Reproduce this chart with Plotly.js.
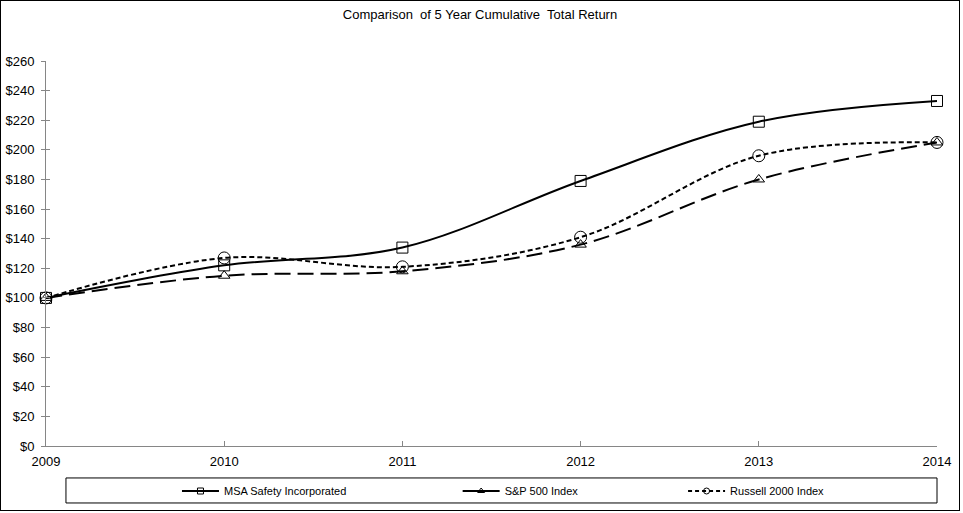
<!DOCTYPE html>
<html>
<head>
<meta charset="utf-8">
<script src="https://cdn.plot.ly/plotly-3.0.1.min.js"></script>
<style>
  html, body { margin: 0; padding: 0; background: #fff; }
  #chart { width: 958px; height: 509px; border: 1px solid #000; }
</style>
</head>
<body>
<div id="chart"></div>
<script>
(function () {
  'use strict';

  /* values */
  var years   = [2009, 2010, 2011, 2012, 2013, 2014];
  var msa     = [100, 122, 134, 179, 219, 233];
  var sp500   = [100, 115, 118, 136, 180, 205];
  var russell = [100, 127, 121, 141, 196, 205];
  var yTicks  = [0, 20, 40, 60, 80, 100, 120, 140, 160, 180, 200, 220, 240, 260];

  var FONT = 'Liberation Sans, Arial, sans-serif';

  var series = [
    { name: 'MSA Safety Incorporated', y: msa,     symbol: 'square-open',      size: 11, dash: 'solid',    legDash: 'solid',   legend: 'legend'  },
    { name: 'S&P 500 Index',           y: sp500,   symbol: 'triangle-up-open', size: 10, dash: '16px,7px', legDash: 'solid',   legend: 'legend2' },
    { name: 'Russell 2000 Index',      y: russell, symbol: 'circle-open',      size: 12, dash: '5px,3px',  legDash: '4px,3px', legend: 'legend3' }
  ];

  var traces = [];
  series.forEach(function (s) {
    traces.push({
      x: years, y: s.y, type: 'scatter', mode: 'lines+markers',
      line: { color: '#000', width: 2, dash: s.dash, shape: 'spline', smoothing: 1 },
      marker: { symbol: s.symbol, size: s.size, color: '#000', line: { width: 1, color: '#000' } },
      cliponaxis: false, showlegend: false, hoverinfo: 'x+y'
    });
  });
  /* legend-only copies with small markers */
  series.forEach(function (s) {
    traces.push({
      x: [null], y: [null], type: 'scatter', mode: 'lines+markers', name: s.name,
      line: { color: '#000', width: 2, dash: s.legDash },
      marker: { symbol: s.symbol, size: 6, color: '#000', line: { width: 1, color: '#000' } },
      legend: s.legend, showlegend: true
    });
  });

  function legendAt(x) {
    return {
      x: x, y: 0.0373, xref: 'paper', yref: 'container',
      xanchor: 'left', yanchor: 'middle',
      orientation: 'h', bgcolor: 'rgba(0,0,0,0)', borderwidth: 0,
      font: { family: FONT, size: 11, color: '#000' },
      itemwidth: 37
    };
  }

  var layout = {
    width: 958, height: 509,
    margin: { l: 45, r: 22, t: 60, b: 64, autoexpand: false },
    paper_bgcolor: '#fff', plot_bgcolor: '#fff',
    font: { family: FONT, size: 13, color: '#000' },
    title: {
      text: 'Comparison  of 5 Year Cumulative  Total Return',
      font: { family: FONT, size: 13, color: '#000' },
      x: 0.5, xanchor: 'center', y: 0.973, yanchor: 'middle'
    },
    xaxis: {
      range: [2009, 2014], tickvals: years, ticktext: years.map(String),
      showline: true, linecolor: '#868686', linewidth: 1,
      ticks: 'inside', ticklen: 5, tickcolor: '#868686',
      ticklabelstandoff: 3,
      showgrid: false, zeroline: false, fixedrange: true,
      tickfont: { family: FONT, size: 13, color: '#000' }
    },
    yaxis: {
      range: [0, 260], tickvals: yTicks, ticktext: yTicks.map(function (v) { return '$' + v; }),
      showline: true, linecolor: '#868686', linewidth: 1,
      ticks: 'outside', ticklen: 4, tickcolor: '#868686',
      ticklabelstandoff: 4,
      showgrid: false, zeroline: false, fixedrange: true,
      tickfont: { family: FONT, size: 13, color: '#000' }
    },
    yaxis2: {
      overlaying: 'y', matches: 'y', side: 'left', range: [0, 260], tickvals: yTicks,
      ticks: 'inside', ticklen: 4, tickcolor: '#868686',
      showticklabels: false, showgrid: false, zeroline: false, showline: false, fixedrange: true
    },
    legend:  legendAt(0.147),
    legend2: legendAt(0.462),
    legend3: legendAt(0.715),
    shapes: [{
      type: 'rect', xref: 'paper', yref: 'paper',
      x0: 0.0224, x1: 1.0, y0: -0.083, y1: -0.148,
      line: { color: '#000', width: 1 }, fillcolor: 'rgba(0,0,0,0)'
    }],
    showlegend: true,
    hovermode: 'closest', dragmode: false
  };

  /* a dummy trace on yaxis2 so its ticks get drawn */
  traces.push({ x: [null], y: [null], yaxis: 'y2', type: 'scatter', mode: 'lines', showlegend: false, hoverinfo: 'skip' });

  Plotly.newPlot('chart', traces, layout, { displayModeBar: false });
})();
</script>
</body>
</html>
